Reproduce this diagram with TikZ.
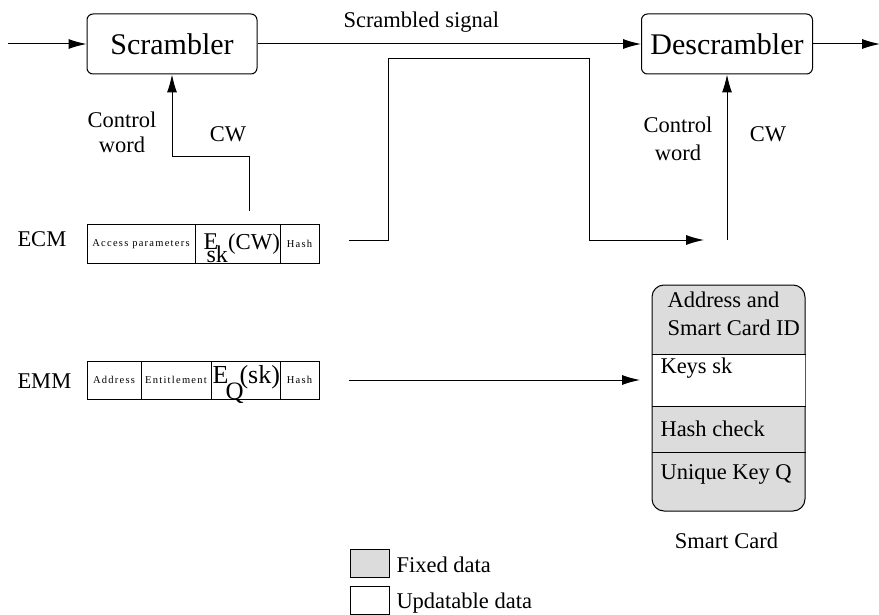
\documentclass[tikz,border=0pt]{standalone}
\usepackage{fontspec}
\setmainfont{Liberation Serif}
\newfontfamily\spacedfont[LetterSpace=12]{Liberation Serif}
\usetikzlibrary{arrows.meta}
\definecolor{cardgray}{HTML}{DCDCDC}

\begin{document}
\begin{tikzpicture}[x=1pt,y=-1pt,
  line width=1pt,
  arr/.style={-{Latex[length=18pt,width=10pt]}},
  blockbox/.style={draw, rounded corners=6pt, inner sep=0pt, minimum height=60pt,
                   font=\fontsize{30}{30}\selectfont},
  cell/.style={draw, inner sep=0pt, minimum height=38pt,
               font=\spacedfont\fontsize{10.5}{11}\selectfont},
  lbl/.style={inner sep=0pt, font=\fontsize{22.5}{25}\selectfont},
  glyph/.style={inner sep=0pt, anchor=base west},
  keybox/.style={draw, inner sep=0pt, minimum width=39pt, minimum height=28pt},
]
\useasboundingbox (0,0) rectangle (879,615);

% --- scrambler chain -------------------------------------------------
\node[blockbox, minimum width=170pt] (scr) at (172,44) {Scrambler};
\node[blockbox, minimum width=171pt] (dscr) at (727,44) {Descrambler};
\coordinate (sigin) at (8,44);
\coordinate (sigout) at (880,44);
\draw[arr] (sigin) -- (scr.west);
\draw[arr] (scr.east) -- (dscr.west);
\draw[arr] (dscr.east) -- (sigout);
\node[lbl, anchor=base west] (scrsig) at (343,28) {Scrambled signal};

% --- ECM message -----------------------------------------------------
\node[lbl, anchor=base west] (ecmlbl) at (17,247) {ECM};
\node[cell, minimum width=108pt] (ecmA) at (141,244) {Access parameters};
\node[cell, minimum width=85pt] (ecmE) at (237.5,244) {};
\node[cell, minimum width=39pt] (ecmH) at (299.5,244) {Hash};
\node[glyph, text depth=0pt, font=\fontsize{24}{24}\selectfont] (ecmEe) at (203,249) {E};
\node[glyph, text height=10pt, font=\fontsize{24}{24}\selectfont] (ecmEsk) at (206,262) {sk};
\node[glyph, font=\fontsize{22.8}{24}\selectfont] (ecmEcw) at (227.5,249) {(CW)};

% --- EMM message -----------------------------------------------------
\node[lbl, anchor=base west] (emmlbl) at (17,388) {EMM};
\node[cell, minimum width=54pt] (emmA) at (114,380) {Address};
\node[cell, minimum width=70pt] (emmT) at (176,380) {Entitlement};
\node[cell, minimum width=69pt] (emmE) at (245.5,380) {};
\node[cell, minimum width=39pt] (emmH) at (299.5,380) {Hash};
\node[glyph, text depth=0pt, font=\fontsize{26}{26}\selectfont] (emmEe) at (212,383) {E};
\node[glyph, text height=14pt, font=\fontsize{25}{25}\selectfont] (emmEq) at (225,399) {Q};
\node[glyph, font=\fontsize{26}{26}\selectfont] (emmEsk) at (239,383) {(sk)};

% --- control word to the scrambler -----------------------------------
\coordinate (cwtop) at (249,211);
\draw[arr] (cwtop) -- (249,157) -- (172,157) -- (scr.south);
\node[lbl, anchor=base] (ctl1) at (122,128) {Control};
\node[lbl, anchor=base] (wrd1) at (122,153) {word};
\node[lbl, anchor=base] (cw1) at (228,142) {CW};

% --- ECM routed to the smart card side -------------------------------
\coordinate (ecmout) at (349,240);
\coordinate (ecmin) at (704,240);
\draw[arr] (ecmout) -- (388,240) -- (388,59) -- (589,59) -- (589,240) -- (ecmin);

% --- control word to the descrambler ---------------------------------
\coordinate (cwcard) at (727,240);
\draw[arr] (cwcard) -- (dscr.south);
\node[lbl, anchor=base] (ctl2) at (678,133) {Control};
\node[lbl, anchor=base] (wrd2) at (678,161) {word};
\node[lbl, anchor=base] (cw2) at (768,142) {CW};

% --- smart card ------------------------------------------------------
\node[draw, fill=cardgray, rounded corners=12pt, inner sep=0pt,
      minimum width=153pt, minimum height=226pt] (card) at (728.5,398) {};
\fill[white] (652.5,354) rectangle (804.5,406);
\draw (card.west |- 0,354) -- (card.east |- 0,354);
\draw (card.west |- 0,406) -- (card.east |- 0,406);
\draw (card.west |- 0,452) -- (card.east |- 0,452);
\node[lbl, anchor=base west] (c1) at (667,307) {Address and};
\node[lbl, anchor=base west] (c2) at (667,335) {Smart Card ID};
\node[lbl, anchor=base west] (c3) at (660,373) {Keys sk};
\node[lbl, anchor=base west] (c4) at (660,436) {Hash check};
\node[lbl, anchor=base west] (c5) at (660,479) {Unique Key Q};
\node[lbl, anchor=base] (cardlbl) at (726.5,548) {Smart Card};

\coordinate (emmout) at (349,380);
\coordinate (emmin) at (640,380);
\draw[arr] (emmout) -- (emmin);

% --- legend ----------------------------------------------------------
\node[keybox, fill=cardgray] (kfixed) at (369.5,563) {};
\node[keybox, fill=white] (kupd) at (369.5,600.5) {};
\node[lbl, anchor=base west] (tfixed) at (396,572) {Fixed data};
\node[lbl, anchor=base west] (tupd) at (396,608) {Updatable data};
\end{tikzpicture}
\end{document}
